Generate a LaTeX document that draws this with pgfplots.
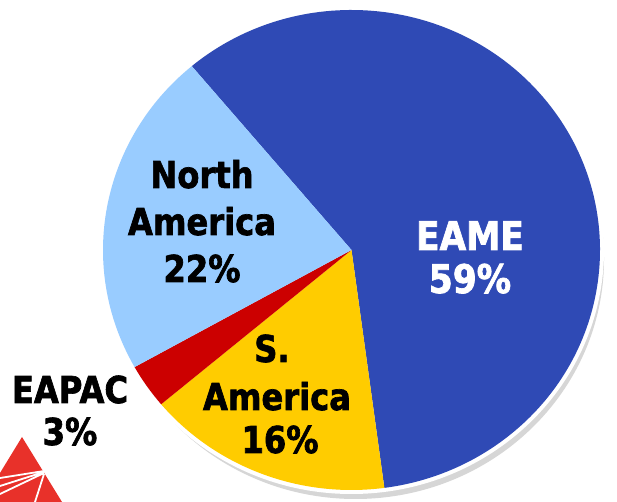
\documentclass[border=0pt]{standalone}
\usepackage{pgfplots}
\pgfplotsset{compat=1.18}
\usepackage{fontspec}
\setmainfont{DejaVu Sans}
\newfontfamily\lab[FakeStretch=0.87, BoldFeatures={FakeBold=1.8}]{DejaVu Sans}

\definecolor{eame}{HTML}{2F4AB5}
\definecolor{namer}{HTML}{99CCFF}
\definecolor{samer}{HTML}{FFCC00}
\definecolor{eapac}{HTML}{CC0000}
\definecolor{logored}{HTML}{E8312A}

% pie geometry in pixel units (axis is 1 unit = 1pt)
\def\cx{351.5}
\def\cy{252}
\def\rx{248.5}
\def\ry{240}

% shares (%), clockwise from 130 deg: EAME, S. America, EAPAC, North America
\pgfmathsetmacro\aA{130}
\pgfmathsetmacro\aB{\aA-59*3.6}
\pgfmathsetmacro\aC{\aB-16*3.6}
\pgfmathsetmacro\aD{\aC-3*3.6}
\pgfmathsetmacro\aE{\aD-22*3.6}

\begin{document}
\begin{tikzpicture}
\begin{axis}[
    width=617pt, height=502pt, scale only axis,
    xmin=0, xmax=617, ymin=0, ymax=502,
    hide axis, clip=false,
    ]
    % shadow and white rim
    \fill[gray!32] (axis cs:\cx+4,\cy-9) ellipse [x radius=\rx pt, y radius=\ry pt];
    \fill[white] (axis cs:\cx,\cy) ellipse [x radius=\rx pt+4pt, y radius=\ry pt+4pt];
    % wedges
    \fill[eame] (axis cs:\cx,\cy) -- +(\aA:\rx pt and \ry pt)
        arc[start angle=\aA, end angle=\aB, x radius=\rx pt, y radius=\ry pt] -- cycle;
    \fill[samer] (axis cs:\cx,\cy) -- +(\aB:\rx pt and \ry pt)
        arc[start angle=\aB, end angle=\aC, x radius=\rx pt, y radius=\ry pt] -- cycle;
    \fill[eapac] (axis cs:\cx,\cy) -- +(\aC:\rx pt and \ry pt)
        arc[start angle=\aC, end angle=\aD, x radius=\rx pt, y radius=\ry pt] -- cycle;
    \fill[namer] (axis cs:\cx,\cy) -- +(\aD:\rx pt and \ry pt)
        arc[start angle=\aD, end angle=\aE, x radius=\rx pt, y radius=\ry pt] -- cycle;

    % labels
    \begin{scope}[every node/.style={anchor=base, inner sep=0pt, font=\lab\bfseries\fontsize{37}{42}\selectfont}]
    \node at (axis cs:202,314) {North};
    \node at (axis cs:202,267) {America};
    \node at (axis cs:202,220) {22\%};
    \node at (axis cs:272,140) {S.};
    \node at (axis cs:277,92) {America};
    \node at (axis cs:280,49) {16\%};
    \node at (axis cs:70,99) {EAPAC};
    \node at (axis cs:70,57) {3\%};
    \node[white, font=\lab\bfseries\fontsize{39.5}{44}\selectfont] at (axis cs:470,252) {EAME};
    \node[white, font=\lab\bfseries\fontsize{39.5}{44}\selectfont] at (axis cs:470,209) {59\%};
    \end{scope}

    % corner logo
    \fill[logored] (axis cs:0,0) -- (axis cs:0,29) -- (axis cs:22,65) -- (axis cs:62,0) -- cycle;
    \draw[white, line width=1.8pt] (axis cs:44,31) -- (axis cs:0,24)
        (axis cs:44,30) -- (axis cs:0,16) (axis cs:44,29) -- (axis cs:0,8)
        (axis cs:44,28) -- (axis cs:35,0);
\end{axis}
\pgfresetboundingbox
\path[use as bounding box] (current axis.south west) rectangle (current axis.north east);
\end{tikzpicture}
\end{document}
